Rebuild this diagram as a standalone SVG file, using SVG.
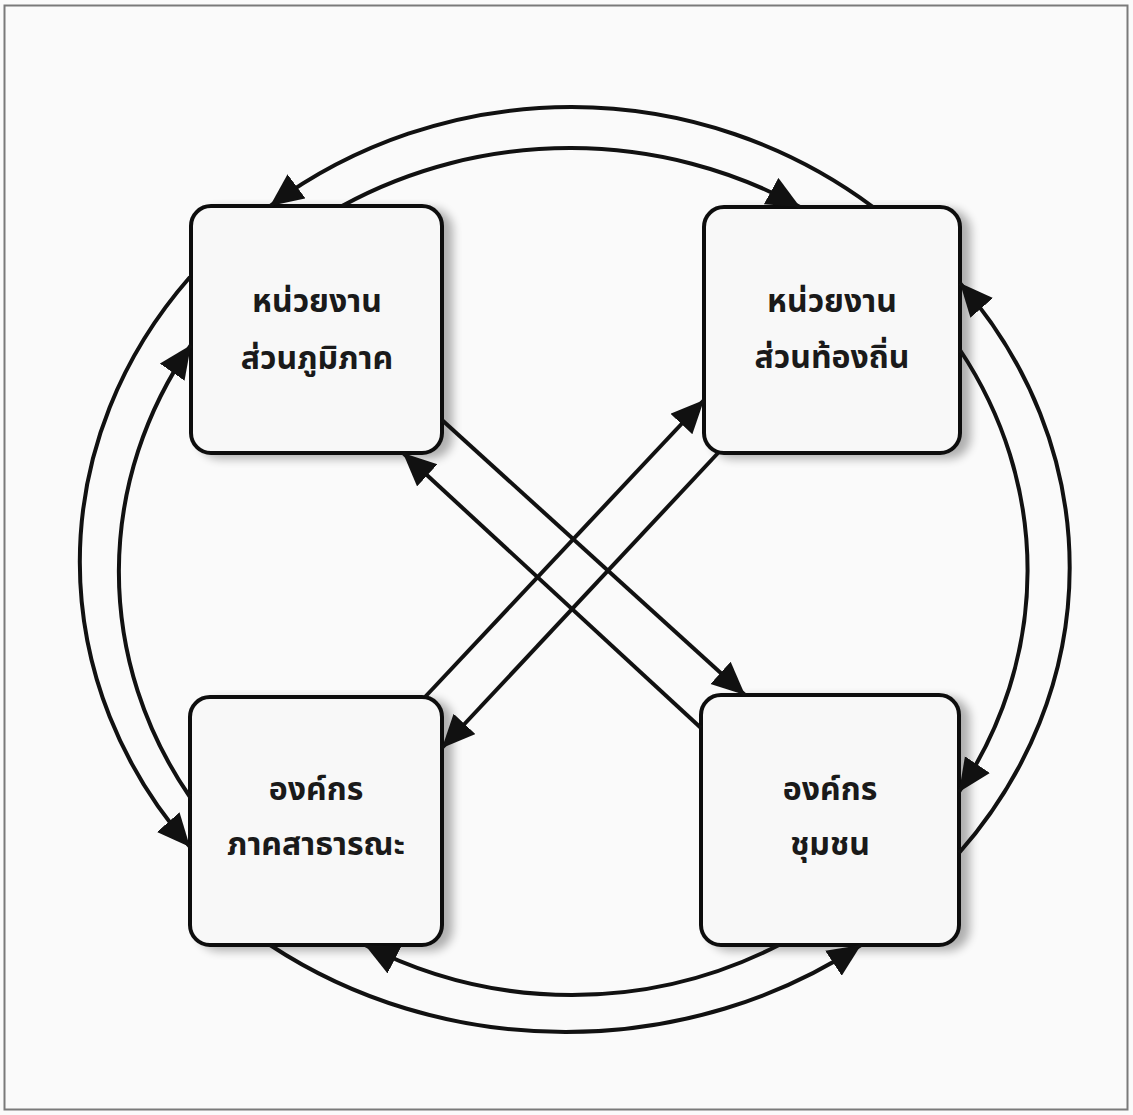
<svg xmlns="http://www.w3.org/2000/svg" width="1133" height="1115" viewBox="0 0 1133 1115">
  <defs>
    <style>
      .box { fill: #f8f8f8; stroke: #111; stroke-width: 4; filter: url(#shadow); }
      .lbl { font-family: "Noto Sans Thai", "Noto Sans", "DejaVu Sans", sans-serif; font-size: 32px; font-weight: bold; fill: #1a1a1a; text-anchor: middle; }
      .con { fill: none; stroke: #111; stroke-width: 4; marker-end: url(#arrow); }
    </style>
    <filter id="shadow" x="-10%" y="-10%" width="130%" height="130%">
      <feGaussianBlur in="SourceAlpha" stdDeviation="5" result="b"/>
      <feOffset in="b" dx="9" dy="4" result="o"/>
      <feComponentTransfer in="o" result="s">
        <feFuncA type="linear" slope="0.3"/>
      </feComponentTransfer>
      <feMerge>
        <feMergeNode in="s"/>
        <feMergeNode in="SourceGraphic"/>
      </feMerge>
    </filter>
    <marker id="arrow" markerUnits="userSpaceOnUse" markerWidth="36" markerHeight="32" refX="33" refY="15" orient="auto">
      <path d="M0,0 L33,15 L0,30 z" fill="#111"/>
    </marker>
  </defs>

  <rect x="0" y="0" width="1133" height="1115" fill="#fafafa"/>
  <rect x="4.5" y="5.5" width="1123" height="1104" fill="none" stroke="#7a7a7a" stroke-width="2"/>

  <g id="node-regional">
    <rect class="box" x="191" y="206" width="251" height="247" rx="20"/>
    <text class="lbl" x="317" y="312">หน่วยงาน</text>
    <text class="lbl" x="317" y="369">ส่วนภูมิภาค</text>
  </g>
  <g id="node-local">
    <rect class="box" x="704" y="207" width="256" height="246" rx="20"/>
    <text class="lbl" x="832" y="312">หน่วยงาน</text>
    <text class="lbl" x="832" y="368">ส่วนท้องถิ่น</text>
  </g>
  <g id="node-public">
    <rect class="box" x="190" y="697" width="252" height="248" rx="20"/>
    <text class="lbl" x="316" y="800">องค์กร</text>
    <text class="lbl" x="316" y="855">ภาคสาธารณะ</text>
  </g>
  <g id="node-community">
    <rect class="box" x="701" y="695" width="258" height="250" rx="20"/>
    <text class="lbl" x="830" y="800">องค์กร</text>
    <text class="lbl" x="830" y="855">ชุมชน</text>
  </g>

  <g id="connectors">
    <!-- outer ring -->
    <path class="con" d="M873,207 A497,485 0 0 0 270,206"/>
    <path class="con" d="M190,277 A520,463 0 0 0 190,847"/>
    <path class="con" d="M270,945 A497,444 0 0 0 861,945"/>
    <path class="con" d="M959,853 A520,463 0 0 0 960,283"/>
    <!-- inner ring -->
    <path class="con" d="M342,206 A455,430 0 0 1 800,207"/>
    <path class="con" d="M960,350 A462,423 0 0 1 959,792"/>
    <path class="con" d="M779,945 A455,457 0 0 1 365,945"/>
    <path class="con" d="M190,797 A463,423 0 0 1 191,345"/>
    <!-- diagonals -->
    <path class="con" d="M442,420 L745,695"/>
    <path class="con" d="M701,728 L403,453"/>
    <path class="con" d="M425,697 L704,400"/>
    <path class="con" d="M718,453 L442,748"/>
  </g>
</svg>
